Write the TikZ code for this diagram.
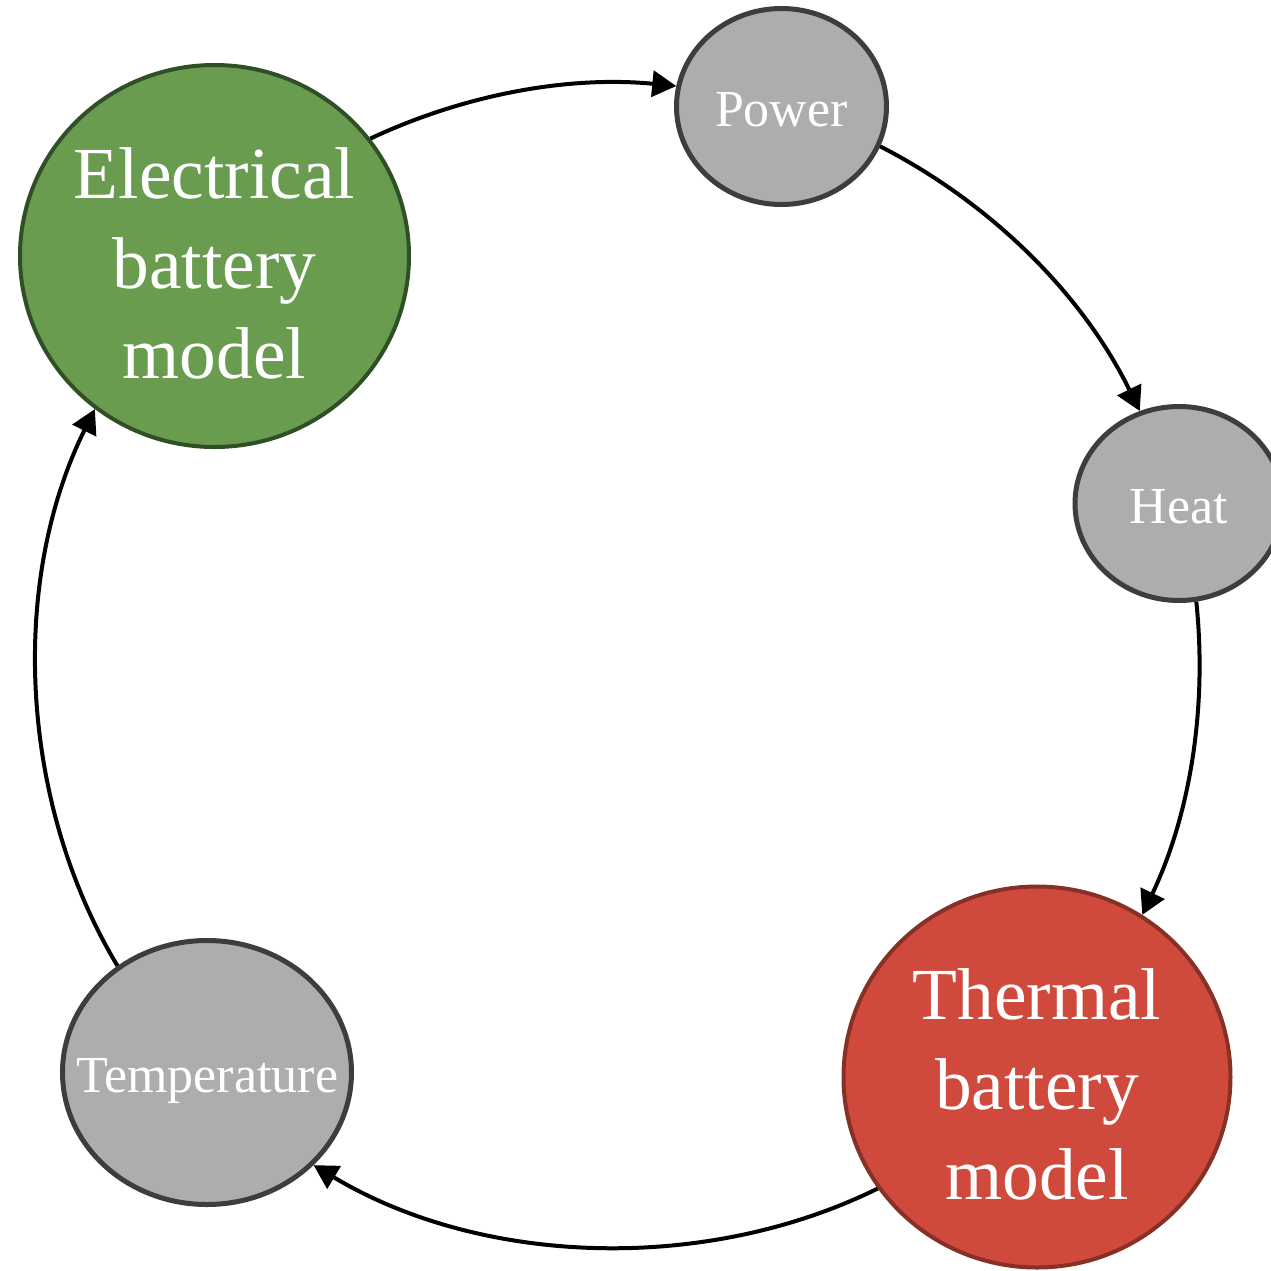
\documentclass[tikz,border=0pt]{standalone}
\usepackage{fontspec}
\setmainfont{Liberation Serif}
\usepackage{xcolor}
\usepackage{tikz}
\usetikzlibrary{arrows.meta, shapes.geometric}
\definecolor{elecfill}{HTML}{6A9C50}
\definecolor{elecdraw}{HTML}{2F4F26}
\definecolor{thermfill}{HTML}{CF4A3C}
\definecolor{thermdraw}{HTML}{863026}
\definecolor{qtyfill}{HTML}{ADADAD}
\definecolor{qtydraw}{HTML}{3D3D3D}

\begin{document}
\begin{tikzpicture}[x=0.5pt, y=-0.5pt,
    model/.style={ellipse, draw, line width=2pt, inner sep=-20pt, align=center, text=white, text height=122pt, text depth=0pt, font=\fontsize{36.7}{45}\selectfont},
    quantity/.style={ellipse, draw=qtydraw, fill=qtyfill, line width=2.5pt, inner sep=-20pt, text=white, text height=20pt, text depth=0pt, font=\fontsize{26}{31}\selectfont},
    flow/.style={-{Triangle[length=12pt, width=13pt]}, line width=2pt, bend left=#1, looseness=0.88}]
    \useasboundingbox (0,0) rectangle (1271,1271);
    \node (elec) [model, draw=elecdraw, fill=elecfill, minimum width=194.5pt, minimum height=191pt] at (214.5,256) {Electrical\\battery\\model};
    \node (power) [quantity, minimum width=105pt, minimum height=98pt] at (781.5,106.5) {Power};
    \node (heat) [quantity, minimum width=104pt, minimum height=97pt] at (1179,503.5) {Heat};
    \node (thermal) [model, draw=thermdraw, fill=thermfill, minimum width=193.5pt, minimum height=190.5pt] at (1037,1077) {Thermal\\battery\\model};
    \node (temp) [quantity, minimum width=144.5pt, minimum height=132pt] at (207,1072.5) {Temperature};

    \draw[flow=15.3] (elec.37) to (power.169);
    \draw[flow=18.4] (power.338) to (heat.113);
    \draw[flow=15.7] (heat.280) to (thermal.57);
    \draw[flow=28.6] (thermal.215) to (temp.319);
    \draw[flow=28.7] (temp.130) to (elec.232);
\end{tikzpicture}
\end{document}
